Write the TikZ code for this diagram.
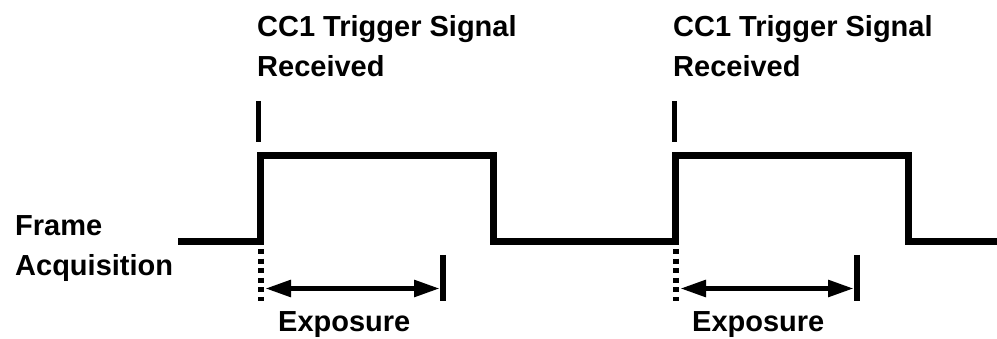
\documentclass[tikz,border=0pt]{standalone}
\usepackage{fontspec}
\setmainfont{Liberation Sans}
\usetikzlibrary{arrows.meta}
\tikzset{
  lbl/.style={anchor=base west, inner sep=0pt, align=left,
    font=\fontsize{29}{40}\selectfont\bfseries},
  wave/.style={line width=7pt, line join=miter, line cap=butt},
  tick/.style={line width=5.5pt},
  dots/.style={line width=5.5pt, dash pattern=on 5pt off 4.6pt},
  span/.style={line width=5.5pt, {Triangle[length=26pt,width=16pt]}-{Triangle[length=26pt,width=16pt]}}
}
\begin{document}
\begin{tikzpicture}[x=1pt,y=-1pt]
\useasboundingbox (0,0) rectangle (997,339);
% waveform corners
\coordinate (w0) at (178,241.5);
\coordinate (w1) at (260.5,241.5);
\coordinate (w2) at (260.5,155.5);
\coordinate (w3) at (493,155.5);
\coordinate (w4) at (493,241.5);
\coordinate (w5) at (675.5,241.5);
\coordinate (w6) at (675.5,155.5);
\coordinate (w7) at (908,155.5);
\coordinate (w8) at (908,241.5);
\coordinate (w9) at (997,241.5);
\draw[wave] (w0) -- (w1) -- (w2) -- (w3) -- (w4) -- (w5) -- (w6) -- (w7) -- (w8) -- (w9);
% trigger ticks
\coordinate (t1a) at (258.5,101); \coordinate (t1b) at (258.5,142);
\coordinate (t2a) at (674.5,101); \coordinate (t2b) at (674.5,142);
\draw[tick] (t1a) -- (t1b);
\draw[tick] (t2a) -- (t2b);
% dotted starts
\coordinate (d1a) at (261,249); \coordinate (d1b) at (261,301);
\coordinate (d2a) at (676,249); \coordinate (d2b) at (676,301);
\draw[dots] (d1a) -- (d1b);
\draw[dots] (d2a) -- (d2b);
% exposure end ticks
\coordinate (e1a) at (443,255); \coordinate (e1b) at (443,301);
\coordinate (e2a) at (857,255); \coordinate (e2b) at (857,301);
\draw[tick] (e1a) -- (e1b);
\draw[tick] (e2a) -- (e2b);
% exposure spans
\coordinate (s1a) at (265,288.5); \coordinate (s1b) at (440,288.5);
\coordinate (s2a) at (680,288.5); \coordinate (s2b) at (854,288.5);
\draw[span] (s1a) -- (s1b);
\draw[span] (s2a) -- (s2b);
% labels (base anchor = baseline of the last line)
\node[lbl] (title1) at (257,77) {CC1 Trigger Signal\\Received};
\node[lbl] (title2) at (673,77) {CC1 Trigger Signal\\Received};
\node[lbl] (frame) at (15,276) {Frame\\Acquisition};
\node[lbl] (exp1) at (278,331) {Exposure};
\node[lbl] (exp2) at (692,331) {Exposure};
\end{tikzpicture}
\end{document}
